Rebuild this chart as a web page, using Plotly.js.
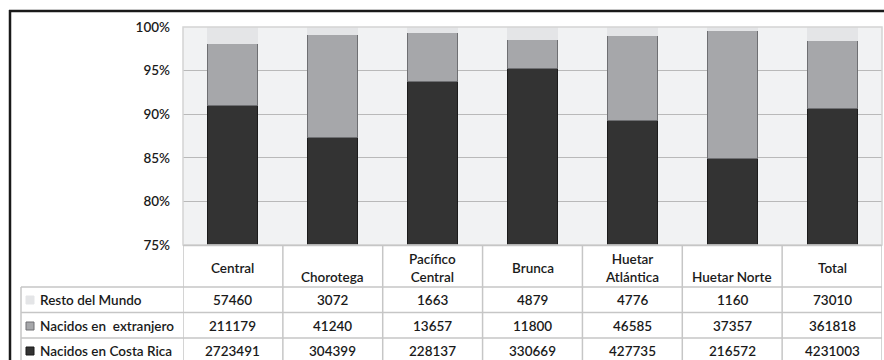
<!DOCTYPE html>
<html><head><meta charset="utf-8">
<script src="https://cdn.plot.ly/plotly-3.0.1.min.js"></script>
<style>html,body{margin:0;padding:0;background:#fff;}#chart{width:884px;height:360px;}</style>
</head><body><div id="chart"></div>
<script>
const categories = ["Central","Chorotega","Pacífico Central","Brunca","Huetar Atlántica","Huetar Norte","Total"];
const headerLabels = ["Central","\u00a0<br>Chorotega","Pacífico<br>Central","Brunca","Huetar<br>Atlántica","\u00a0<br>Huetar Norte","Total"];
const seriesNames = ["Resto del Mundo","Nacidos en  extranjero","Nacidos en Costa Rica"];
const restoDelMundo = [57460,3072,1663,4879,4776,1160,73010];
const nacidosExtranjero = [211179,41240,13657,11800,46585,37357,361818];
const nacidosCostaRica = [2723491,304399,228137,330669,427735,216572,4231003];
const yTickVals = [75,80,85,90,95,100];
const yTickText = ["75%","80%","85%","90%","95%","100%"];
const yRange = [75,100];

const W=884,H=360,L=183,R=2,T=27,B=115;
const PW=W-L-R, PH=H-T-B;
const xp = px => (px-L)/PW;
const yp = py => (H-B-py)/PH;

const FONT = "Lato, 'Open Sans', sans-serif";
const TXT = "#1a1a1a";
const GRID = "#c6c6c6";
const FW = 600;

const seriesColors = {
  "Resto del Mundo": {fill:"#e4e5e7", line:"#e4e5e7"},
  "Nacidos en  extranjero": {fill:"#a6a7aa", line:"#6e6f72"},
  "Nacidos en Costa Rica": {fill:"#333333", line:"#1b1b1b"}
};

const traces = [
  {name:seriesNames[2], vals:nacidosCostaRica},
  {name:seriesNames[1], vals:nacidosExtranjero},
  {name:seriesNames[0], vals:restoDelMundo}
].map(s => ({
  type:"bar", x:categories, y:s.vals, name:s.name,
  marker:{color:seriesColors[s.name].fill, line:{color:seriesColors[s.name].line, width:1}},
  hoverinfo:"skip"
}));

const rowY = [300, 326, 351];
const rowLines = [287, 312.5, 338];
const rowData = [restoDelMundo, nacidosExtranjero, nacidosCostaRica];

const shapes = [];
const annotations = [];

shapes.push({type:"line", xref:"paper", yref:"paper", x0:xp(9), x1:xp(884), y0:yp(11), y1:yp(11), line:{color:"#1a1a1a", width:2.5}});
shapes.push({type:"line", xref:"paper", yref:"paper", x0:xp(10), x1:xp(10), y0:yp(10), y1:yp(362), line:{color:"#1a1a1a", width:2.5}});

shapes.push({type:"rect", xref:"paper", yref:"paper", x0:0, x1:1, y0:0, y1:1, line:{color:"#d4d4d4", width:1.5}, layer:"above"});

shapes.push({type:"line", xref:"paper", yref:"paper", x0:0, x1:1, y0:yp(245.5), y1:yp(245.5), line:{color:GRID, width:1.5}});
rowLines.forEach(py => shapes.push({type:"line", xref:"paper", yref:"paper", x0:xp(21), x1:1, y0:yp(py), y1:yp(py), line:{color:GRID, width:1.5}}));
for (let i=0;i<=categories.length;i++){
  shapes.push({type:"line", xref:"x", yref:"paper", x0:i-0.5, x1:i-0.5, y0:yp(245), y1:yp(362), line:{color:GRID, width:1.5}});
}
shapes.push({type:"line", xref:"paper", yref:"paper", x0:xp(21), x1:xp(21), y0:yp(287), y1:yp(362), line:{color:GRID, width:1.5}});

categories.forEach((c,i) => annotations.push({xref:"x", yref:"paper", x:c, y:yp(268), text:headerLabels[i], showarrow:false, xanchor:"center", yanchor:"middle", font:{family:FONT, size:13.5, color:TXT, weight:FW}}));

const legendOrder = [seriesNames[0], seriesNames[1], seriesNames[2]];
rowData.forEach((vals,r) => {
  vals.forEach((v,i) => annotations.push({xref:"x", yref:"paper", x:categories[i], y:yp(rowY[r]), text:String(v), showarrow:false, xanchor:"center", yanchor:"middle", font:{family:FONT, size:13.5, color:TXT, weight:FW}}));
  annotations.push({xref:"paper", yref:"paper", x:xp(38), y:yp(rowY[r]), text:legendOrder[r], showarrow:false, xanchor:"left", yanchor:"middle", font:{family:FONT, size:13.5, color:TXT, weight:FW}});
  const col = seriesColors[legendOrder[r]];
  shapes.push({type:"rect", xref:"paper", yref:"paper", x0:xp(26), x1:xp(34), y0:yp(rowY[r]-4), y1:yp(rowY[r]+4), fillcolor:col.fill, line:{color:r===0?col.fill:col.line, width:1}});
});

const layout = {
  width:W, height:H,
  margin:{l:L, r:R, t:T, b:B, pad:0},
  paper_bgcolor:"#ffffff",
  plot_bgcolor:"#f1f2f3",
  barmode:"stack", barnorm:"percent", bargap:0.5,
  showlegend:false,
  xaxis:{type:"category", range:[-0.5, categories.length-0.5], showticklabels:false, showgrid:false, zeroline:false, showline:false, fixedrange:true},
  yaxis:{range:yRange, tickmode:"array", tickvals:yTickVals, ticktext:yTickText, showgrid:true, gridcolor:"#b9b9b9", gridwidth:1.3, zeroline:false, showline:false, ticks:"", ticklabelstandoff:12, tickfont:{family:FONT, size:13.5, color:TXT, weight:FW}, fixedrange:true},
  shapes:shapes,
  annotations:annotations,
  font:{family:FONT, color:TXT}
};

Plotly.newPlot("chart", traces, layout, {staticPlot:true, displayModeBar:false});
</script>
</body></html>
